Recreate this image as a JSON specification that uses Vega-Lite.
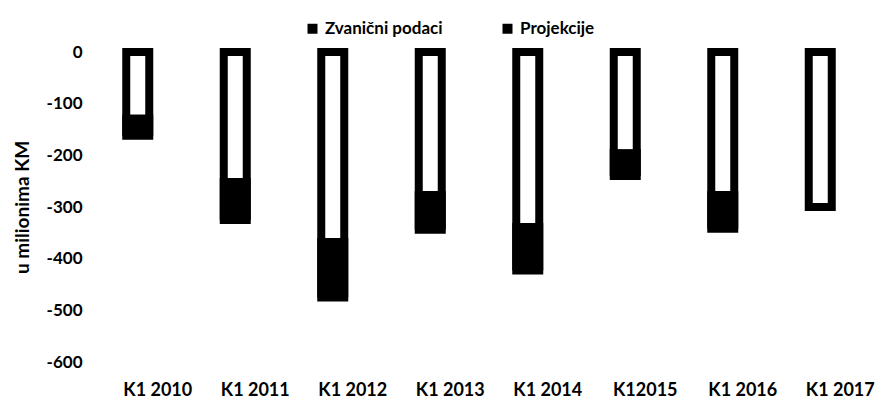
{
  "$schema": "https://vega.github.io/schema/vega-lite/v6.json",
  "autosize": {"type": "none"},
  "padding": {"left": 89, "top": 52, "right": 12, "bottom": 38},
  "width": 780,
  "height": 310,
  "background": "white",
  "config": {
    "font": "Lato",
    "view": {"stroke": null},
    "axis": {"labelFont": "Lato", "labelFontWeight": "bold", "labelColor": "black", "titleColor": "black", "titleFont": "Lato"},
    "legend": {"labelFont": "Lato", "labelFontWeight": "bold", "labelColor": "black", "padding": 0}
  },
  "data": {
    "values": [
      {"kvartal": "K1 2010", "projekcije": -162, "zvanicni": -121},
      {"kvartal": "K1 2011", "projekcije": -325, "zvanicni": -244},
      {"kvartal": "K1 2012", "projekcije": -475, "zvanicni": -360},
      {"kvartal": "K1 2013", "projekcije": -344, "zvanicni": -269},
      {"kvartal": "K1 2014", "projekcije": -423, "zvanicni": -331},
      {"kvartal": "K12015", "projekcije": -240, "zvanicni": -188},
      {"kvartal": "K1 2016", "projekcije": -342, "zvanicni": -269},
      {"kvartal": "K1 2017", "projekcije": -300, "zvanicni": -300}
    ]
  },
  "encoding": {
    "x": {
      "field": "kvartal", "type": "nominal", "sort": null,
      "scale": {"paddingInner": 0, "paddingOuter": 0},
      "axis": {"title": null, "labelAngle": 0, "domain": false, "ticks": false, "labelFontSize": 18, "labelPadding": 19, "labelOffset": 20}
    }
  },
  "layer": [
    {
      "mark": {"type": "bar", "width": 23, "fill": "white", "stroke": "black", "strokeWidth": 8},
      "encoding": {
        "y": {
          "field": "projekcije", "type": "quantitative",
          "scale": {"domain": [-600, 0], "nice": false},
          "axis": {"title": "u milionima KM", "titleFontSize": 19, "titleFontWeight": "bold", "titlePadding": 14, "labelFontSize": 17, "values": [0, -100, -200, -300, -400, -500, -600], "labelExpr": "replace(datum.label, '−', '-')", "grid": false, "domain": false, "ticks": false, "labelPadding": 7}
        }
      }
    },
    {
      "mark": {"type": "bar", "width": 31},
      "encoding": {
        "y": {"field": "zvanicni", "type": "quantitative"},
        "y2": {"field": "projekcije"},
        "color": {
          "datum": "Zvanični podaci",
          "scale": {"domain": ["Zvanični podaci", "Projekcije"], "range": ["black", "black"]},
          "legend": {"title": null, "orient": "none", "legendX": 215, "legendY": -32, "direction": "horizontal", "symbolType": "square", "symbolSize": 100, "labelFontSize": 17, "columnPadding": 56, "labelOffset": 4}
        }
      }
    }
  ]
}
